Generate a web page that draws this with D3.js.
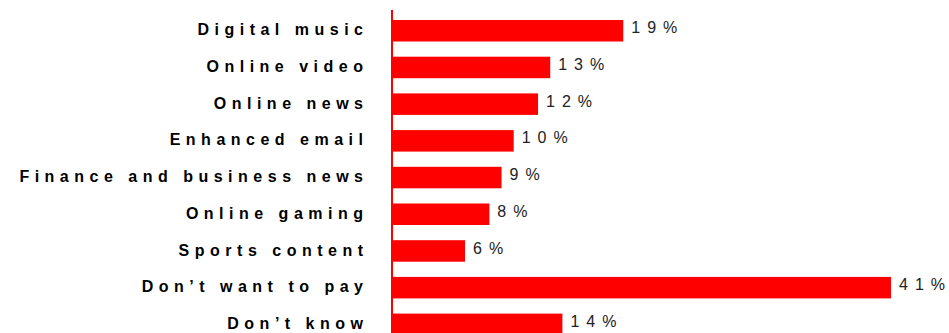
<!DOCTYPE html>
<html><head><meta charset="utf-8">
<script src="https://cdn.jsdelivr.net/npm/d3@7"></script>
<style>body{margin:0;background:#fff}svg{display:block}</style>
</head><body>
<svg id="chart" width="949" height="333"></svg>
<script>
const categories = ["Digital music","Online video","Online news","Enhanced email","Finance and business news","Online gaming","Sports content","Don\u2019t want to pay","Don\u2019t know"];
const values = [19,13,12,10,9,8,6,41,14];
const valueLabels = ["19%","13%","12%","10%","9%","8%","6%","41%","14%"];

const svg = d3.select("#chart");
const x0 = 392;
const step = 36.7;
const x = d3.scaleLinear().domain([0, d3.max(values)]).range([x0, 891]);
const y = d3.scaleBand().domain(categories)
  .range([12.4, 12.4 + step*categories.length])
  .paddingInner(0.414).paddingOuter(0.207);

const data = categories.map((c,i)=>({c, v: values[i], l: valueLabels[i]}));

svg.selectAll("rect.bar").data(data).enter().append("rect")
  .attr("class","bar")
  .attr("x", x(0)).attr("y", d=>y(d.c))
  .attr("width", d=>x(d.v)-x(0)).attr("height", y.bandwidth())
  .attr("fill","#ff0000");

svg.append("line").attr("x1",x0).attr("x2",x0).attr("y1",10).attr("y2",333)
  .attr("stroke","#ff0000").attr("stroke-width",2);

svg.selectAll("text.cat").data(data).enter().append("text")
  .attr("class","cat")
  .attr("x", 368.5).attr("y", d=>y(d.c)+y.bandwidth()/2 - 1)
  .attr("dy","0.35em").attr("text-anchor","end")
  .style("font-family","'Liberation Sans', Arial, sans-serif")
  .style("font-weight","bold").style("font-size","16px")
  .style("letter-spacing","5.5px").attr("fill","#000")
  .text(d=>d.c);

const vals = svg.selectAll("text.val").data(data).enter().append("text")
  .attr("class","val")
  .attr("x", d=>x(d.v)+8).attr("y", d=>y(d.c)+y.bandwidth()/2 - 3)
  .attr("dy","0.35em")
  .style("font-family","'Liberation Sans', Arial, sans-serif")
  .style("font-size","16px").attr("fill","#222");
vals.append("tspan").style("letter-spacing","7px").text(d=>d.l.slice(0,-1));
vals.append("tspan").style("letter-spacing","0px").text(d=>d.l.slice(-1));
</script>
</body></html>
